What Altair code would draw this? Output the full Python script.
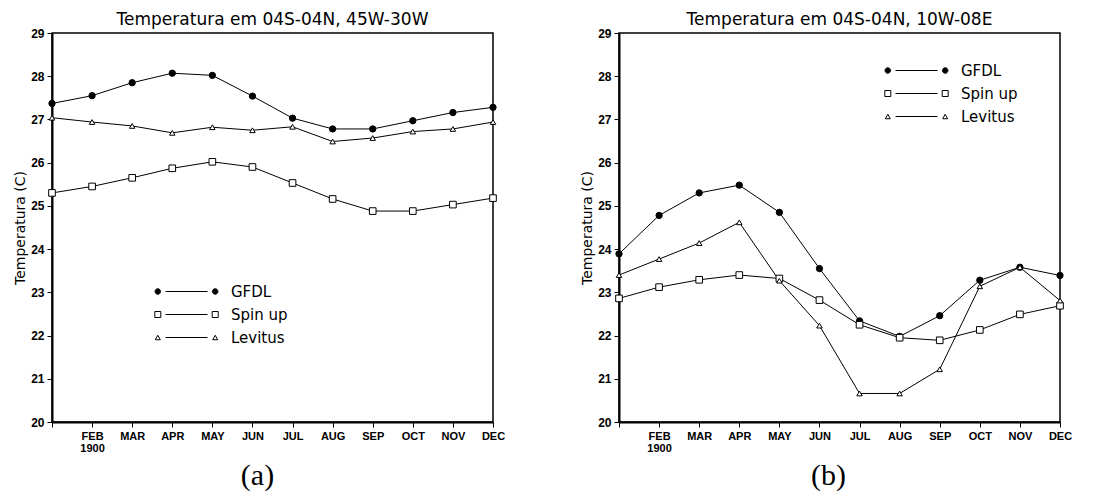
import altair as alt
import pandas as pd

months = list(range(1, 13))
month_labels = ["", "FEB", "MAR", "APR", "MAY", "JUN", "JUL", "AUG", "SEP", "OCT", "NOV", "DEC"]
year_label = "1900"
series_names = ["GFDL", "Spin up", "Levitus"]
y_ticks = list(range(20, 30))

a_gfdl = [27.37, 27.55, 27.85, 28.07, 28.02, 27.54, 27.03, 26.78, 26.78, 26.97, 27.16, 27.28]
a_spin = [25.30, 25.45, 25.65, 25.87, 26.02, 25.90, 25.53, 25.16, 24.88, 24.88, 25.03, 25.18]
a_lev = [27.04, 26.94, 26.85, 26.69, 26.82, 26.75, 26.83, 26.49, 26.57, 26.72, 26.78, 26.94]

b_gfdl = [23.89, 24.78, 25.30, 25.48, 24.85, 23.55, 22.34, 21.98, 22.46, 23.28, 23.58, 23.39]
b_spin = [22.86, 23.12, 23.29, 23.40, 23.32, 22.82, 22.25, 21.95, 21.89, 22.13, 22.49, 22.69]
b_lev = [23.40, 23.77, 24.14, 24.62, 23.27, 22.23, 20.66, 20.66, 21.22, 23.14, 23.58, 22.81]

title_a = "Temperatura em 04S-04N, 45W-30W"
title_b = "Temperatura em 04S-04N, 10W-08E"


def make_df(g, s, l):
    rows = []
    for name, vals in zip(series_names, [g, s, l]):
        for m, v in zip(months, vals):
            rows.append({"month": m, "temp": v, "series": name})
    return pd.DataFrame(rows)


# legend symbol paths: marker - line - marker (unit = sqrt(size)/2 px)
def circ(cx, r):
    return f"M{cx - r},0A{r},{r},0,1,1,{cx + r},0A{r},{r},0,1,1,{cx - r},0Z"


def sq(cx, h):
    return f"M{cx - h},{-h}L{cx + h},{-h}L{cx + h},{h}L{cx - h},{h}Z"


def tri(cx, w, h):
    return f"M{cx},{-h}L{cx + w},{h}L{cx - w},{h}Z"


C = 5.74
LINE = "M-4.2,0L4.2,0"
legend_paths = [
    circ(-C, 0.55) + LINE + circ(C, 0.55),
    sq(-C, 0.6) + LINE + sq(C, 0.6),
    tri(-C, 0.5, 0.45) + LINE + tri(C, 0.5, 0.45),
]

label_list = "[" + ",".join(f"'{m}'" for m in month_labels) + "]"
label_expr = f"datum.value == 2 ? ['{month_labels[1]}', '{year_label}'] : {label_list}[datum.value - 1]"


def panel(df, title, caption, cap_x, leg_x, leg_y):
    base = alt.Chart(df)
    x = alt.X(
        "month:Q",
        scale=alt.Scale(domain=[1, 12], nice=False, zero=False),
        axis=alt.Axis(
            values=months, labelExpr=label_expr, labelFlush=False, labelOverlap=False,
            labelFontSize=11, labelLineHeight=12, title=caption, titleFont="Liberation Serif",
            titleFontSize=30, titleFontWeight="normal", titleX=cap_x, titleY=62,
            titleAlign="center", titleBaseline="alphabetic",
        ),
    )
    y = alt.Y(
        "temp:Q",
        scale=alt.Scale(domain=[20, 29], nice=False, zero=False),
        axis=alt.Axis(values=y_ticks, labelFlush=False, labelOverlap=False,
                      title="Temperatura (C)", titlePadding=3),
    )
    lines = base.mark_line(color="black", strokeWidth=1).encode(x=x, y=y, detail="series:N")
    p_g = base.transform_filter(alt.datum.series == series_names[0]).mark_point(
        shape="circle", filled=True, fill="black", stroke="black", strokeWidth=1, size=40, opacity=1
    ).encode(x=x, y=y)
    p_s = base.transform_filter(alt.datum.series == series_names[1]).mark_point(
        shape="square", filled=True, fill="white", stroke="black", strokeWidth=1, size=44, opacity=1
    ).encode(x=x, y=y)
    p_l = base.transform_filter(alt.datum.series == series_names[2]).mark_point(
        shape="triangle-up", filled=True, fill="white", stroke="black", strokeWidth=1, size=30, opacity=1
    ).encode(x=x, y=y)
    leg = alt.Legend(
        orient="none", legendX=leg_x, legendY=leg_y, title=None, symbolSize=100,
        symbolStrokeWidth=1, symbolStrokeColor="black", symbolOpacity=1,
        labelFont="DejaVu Sans", labelFontSize=15, labelColor="black",
        labelOffset=37, rowPadding=7,
    )
    legend_layer = base.mark_point(filled=True, opacity=0, stroke="black").encode(
        x=x, y=y,
        shape=alt.Shape("series:N", scale=alt.Scale(domain=series_names, range=legend_paths), legend=leg),
        fill=alt.Fill("series:N", scale=alt.Scale(domain=series_names, range=["black", "white", "white"]), legend=leg),
        stroke=alt.Stroke("series:N", scale=alt.Scale(domain=series_names, range=["black", "black", "black"]), legend=leg),
    )
    return alt.layer(lines, p_g, p_s, p_l, legend_layer).properties(
        width=441, height=389,
        title=alt.TitleParams(title, font="DejaVu Sans", fontSize=17, fontWeight="normal",
                              color="black", anchor="middle", baseline="alphabetic", offset=-15),
    )


left = panel(make_df(a_gfdl, a_spin, a_lev), title_a, "(a)", 205, 127, 251)
right = panel(make_df(b_gfdl, b_spin, b_lev), title_b, "(b)", 209, 290, 30)

chart = alt.hconcat(left, right, spacing=67).resolve_scale(
    shape="independent", fill="independent", stroke="independent"
).properties(
    padding={"left": 4, "top": 2, "right": 5, "bottom": 0}
).configure_view(stroke="black", strokeWidth=1.5).configure_axis(
    domainColor="black", domainWidth=2, tickColor="black", tickWidth=1, tickSize=5,
    labelColor="black", labelFont="Liberation Sans", labelFontWeight="bold", labelFontSize=12,
    labelPadding=3, titleFont="DejaVu Sans", titleFontWeight="normal", titleFontSize=14,
    titleColor="black", grid=False,
)

chart.save("out.html", embed_options={"renderer": "svg", "actions": False})
